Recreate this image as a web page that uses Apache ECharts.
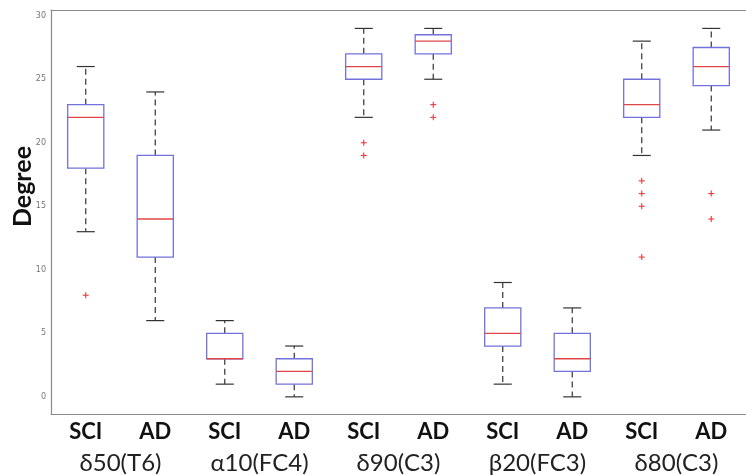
<!DOCTYPE html>
<html>
<head>
<meta charset="utf-8">
<script src="https://cdn.jsdelivr.net/npm/echarts@6/dist/echarts.min.js"></script>
<style>html,body{margin:0;padding:0;background:#fff}#c{width:746px;height:475px}</style>
</head>
<body>
<div id="c"></div>
<script>
// categories
var boxLabels = ['SCI','AD','SCI','AD','SCI','AD','SCI','AD','SCI','AD'];
var groupLabels = ['δ50(T6)','α10(FC4)','δ90(C3)','β20(FC3)','δ80(C3)'];
var yTicks = [0,5,10,15,20,25,30];
// box stats: [lowerWhisker, q1, median, q3, upperWhisker]
var lowerW = [13, 6, 1, 0, 22, 25, 1, 0, 19, 21];
var q1     = [18, 11, 3, 1, 25, 27, 4, 2, 22, 24.5];
var median = [22, 14, 3, 2, 26, 28, 5, 3, 23, 26];
var q3     = [23, 19, 5, 3, 27, 28.5, 7, 5, 25, 27.5];
var upperW = [26, 24, 6, 4, 29, 29, 9, 7, 28, 29];
// outliers: [boxIndex, value]
var outlierBox = [0, 4, 4, 5, 5, 8, 8, 8, 8, 9, 9];
var outlierVal = [8, 20, 19, 23, 22, 17, 16, 15, 11, 16, 14];

var boxData = boxLabels.map(function(_, i){ return [i, lowerW[i], q1[i], median[i], q3[i], upperW[i]]; });
var outData = outlierBox.map(function(b, i){ return [b, outlierVal[i]]; });

var chart = echarts.init(document.getElementById('c'));
var axisGray = '#8a8a8a';
chart.setOption({
  animation: false,
  grid: {left: 51, top: 10, right: -8, bottom: 60},
  xAxis: [
    {type: 'category', data: boxLabels, position: 'bottom', boundaryGap: true,
     axisLine: {onZero: false, lineStyle: {color: axisGray, width: 1.2}},
     axisTick: {inside: true, alignWithLabel: true, length: 6, lineStyle: {color: axisGray}},
     axisLabel: {margin: 7, fontFamily: 'Lato', fontWeight: 'bold', fontSize: 22, color: '#111'}},
    {type: 'category', data: boxLabels, position: 'top', boundaryGap: true,
     axisLine: {onZero: false, lineStyle: {color: axisGray, width: 1.2}},
     axisTick: {inside: true, alignWithLabel: true, length: 6, lineStyle: {color: axisGray}},
     axisLabel: {show: false}},
    {type: 'category', data: groupLabels, position: 'bottom', offset: 30, boundaryGap: true,
     axisLine: {show: false, onZero: false}, axisTick: {show: false},
     axisLabel: {margin: 7, fontFamily: 'Lato', fontSize: 24, color: '#222'}}
  ],
  yAxis: {
    type: 'value', min: -1.35, max: 30.45,
    splitLine: {show: false},
    axisLine: {show: true, onZero: false, lineStyle: {color: axisGray, width: 1.2}},
    axisTick: {inside: true, length: 6, customValues: yTicks, lineStyle: {color: axisGray}},
    axisLabel: {customValues: yTicks, fontSize: 8, color: '#777', margin: 5, fontFamily: 'DejaVu Sans'}
  },
  graphic: [{
    type: 'text', left: 10, top: 146, rotation: Math.PI / 2,
    style: {text: 'Degree', fontFamily: 'Lato', fontWeight: 'bold', fontSize: 25, fill: '#111'}
  }],
  series: [
    {
      type: 'custom', xAxisIndex: 0, data: boxData,
      encode: {x: 0, y: [1, 2, 3, 4, 5]},
      renderItem: function(params, api){
        var x = api.value(0);
        var band = api.size([1, 0])[0];
        var bw = band * 0.52, cw = band * 0.26;
        var pLo = api.coord([x, api.value(1)]);
        var pQ1 = api.coord([x, api.value(2)]);
        var pMd = api.coord([x, api.value(3)]);
        var pQ3 = api.coord([x, api.value(4)]);
        var pHi = api.coord([x, api.value(5)]);
        var cx = pMd[0];
        var wStyle = {stroke: '#333', lineWidth: 1.2, lineDash: [6, 4]};
        var cStyle = {stroke: '#333', lineWidth: 1.2};
        return {type: 'group', children: [
          {type: 'line', shape: {x1: cx, y1: pQ3[1], x2: cx, y2: pHi[1]}, style: wStyle},
          {type: 'line', shape: {x1: cx, y1: pQ1[1], x2: cx, y2: pLo[1]}, style: wStyle},
          {type: 'line', shape: {x1: cx - cw / 2, y1: pHi[1], x2: cx + cw / 2, y2: pHi[1]}, style: cStyle},
          {type: 'line', shape: {x1: cx - cw / 2, y1: pLo[1], x2: cx + cw / 2, y2: pLo[1]}, style: cStyle},
          {type: 'rect', shape: {x: cx - bw / 2, y: pQ3[1], width: bw, height: pQ1[1] - pQ3[1]},
           style: {fill: '#fff', stroke: '#7272dc', lineWidth: 1.3}},
          {type: 'line', shape: {x1: cx - bw / 2, y1: pMd[1], x2: cx + bw / 2, y2: pMd[1]},
           style: {stroke: '#e04646', lineWidth: 1.3}}
        ]};
      }
    },
    {
      type: 'custom', xAxisIndex: 0, data: outData,
      encode: {x: 0, y: 1},
      renderItem: function(params, api){
        var p = api.coord([api.value(0), api.value(1)]);
        var s = 3;
        var st = {stroke: '#e03c3c', lineWidth: 1.1};
        return {type: 'group', children: [
          {type: 'line', shape: {x1: p[0] - s, y1: p[1], x2: p[0] + s, y2: p[1]}, style: st},
          {type: 'line', shape: {x1: p[0], y1: p[1] - s, x2: p[0], y2: p[1] + s}, style: st}
        ]};
      }
    }
  ]
});
</script>
</body>
</html>
